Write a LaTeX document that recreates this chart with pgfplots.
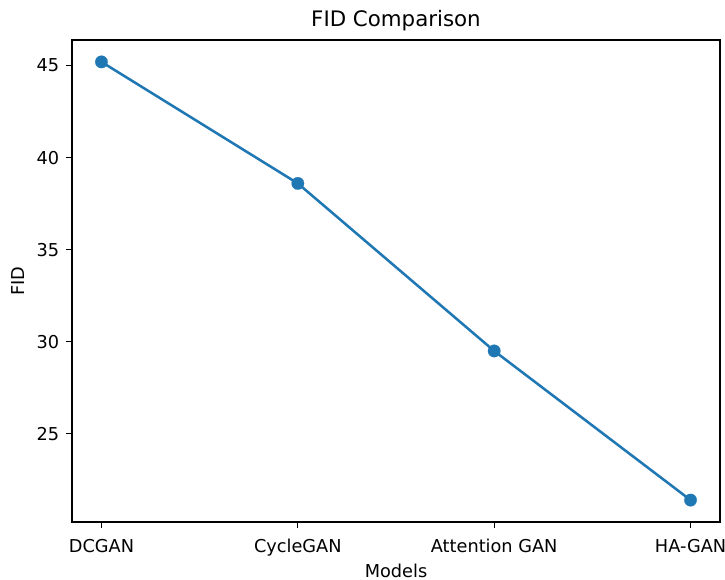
\documentclass[border=0pt]{standalone}
\usepackage{fontspec}
\setmainfont{DejaVu Sans}
\usepackage{pgfplots}
\pgfplotsset{compat=1.18}
\definecolor{tabblue}{HTML}{1F77B4}
\begin{document}
\begin{tikzpicture}
\path[use as bounding box] (-54pt,-43.5pt) rectangle (489.75pt,391.5pt);
\begin{axis}[
  scale only axis,
  width=486pt, height=361.5pt,
  at={(0,0)}, anchor=south west,
  xmin=-0.15, xmax=3.15,
  ymin=20.21, ymax=46.39,
  xtick={0,1,2,3},
  xticklabels={DCGAN,CycleGAN,Attention GAN,HA-GAN},
  ytick={25,30,35,40,45},
  tick align=outside,
  major tick length=4.6pt,
  tick style={black, line width=0.8pt},
  axis line style={black, line width=0.8pt},
  xtick pos=bottom, ytick pos=left,
  /pgf/number format/assume math mode=true,
  tick label style={font=\fontsize{13.3}{15}\selectfont},
  label style={font=\fontsize{13.3}{15}\selectfont},
  title style={font=\fontsize{16}{19}\selectfont, at={(0.5,1)}, anchor=south, yshift=-3pt},
  title={FID Comparison},
  xlabel={Models},
  ylabel={FID},
  xlabel style={yshift=1.5pt},
  ylabel style={yshift=2.5pt},
  xticklabel style={yshift=-5pt},
  yticklabel style={xshift=-1.5pt},
]
\addplot[color=tabblue, line width=1.9pt, mark=*, mark size=4.7pt, mark options={fill=tabblue, draw=tabblue, line width=0.1pt}]
  coordinates {(0,45.2) (1,38.6) (2,29.5) (3,21.4)};
\end{axis}
\end{tikzpicture}
\end{document}
